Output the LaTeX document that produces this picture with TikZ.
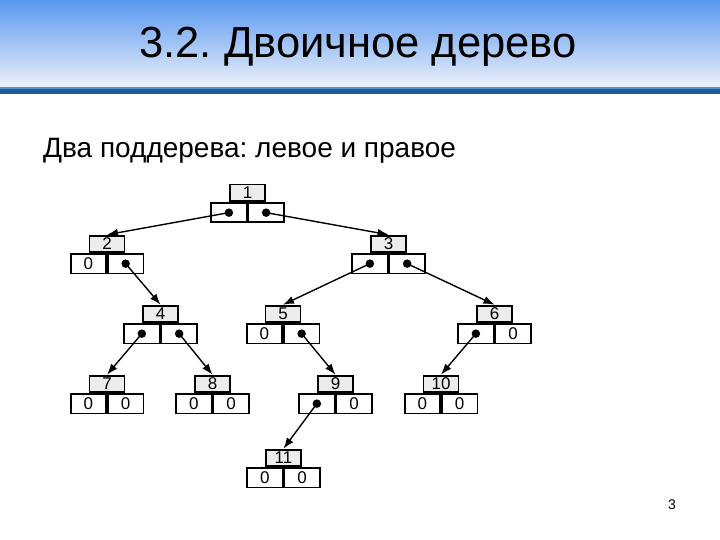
\documentclass[tikz,border=0pt]{standalone}
\usepackage{fontspec}
\setmainfont{Liberation Sans}
\usetikzlibrary{arrows.meta}
\frenchspacing

\definecolor{bartop}{RGB}{88,152,240}
\definecolor{barmid}{RGB}{150,190,238}
\definecolor{barbot}{RGB}{236,240,250}
\definecolor{stripe}{RGB}{30,92,158}
\definecolor{stripelt}{RGB}{80,150,205}

\begin{document}
\begin{tikzpicture}[x=1pt,y=-1pt,
  numbox/.style={draw,fill=gray!15,line width=1.8pt,minimum width=35pt,minimum height=16.5pt,inner sep=0pt,anchor=south,font=\fontsize{17}{17}\selectfont},
  cell/.style={draw,line width=1.8pt,minimum width=35.5pt,minimum height=19.5pt,inner sep=0pt,font=\fontsize{17}{17}\selectfont},
  lcell/.style={cell,anchor=north east},
  rcell/.style={cell,anchor=north west},
  ptr/.style={circle,fill=black,inner sep=0pt,minimum size=8.5pt},
  arr/.style={-{Latex[length=11pt,width=8pt]},line width=1.4pt},
]
  \useasboundingbox (0,0) rectangle (720,540);

  % title bar
  \shade[top color=bartop,middle color=barmid,bottom color=barbot] (0,0) rectangle (720,87);
  \fill[stripelt] (0,87) rectangle (720,89);
  \fill[stripe] (0,89) rectangle (720,94);
  \node[anchor=base,font=\fontsize{43.5}{43.5}\selectfont] (title) at (358,58) {3.2. Двоичное дерево};
  \node[anchor=base west,font=\fontsize{28}{28}\selectfont,inner sep=0pt] (sub) at (43,158) {Два поддерева: левое и правое};

  % level 1
  \node[lcell] (t1l) at (247.5,202) {};
  \node[rcell] (t1r) at (247.5,202) {};
  \node[numbox] (t1) at (247.5,202) {1};

  % level 2
  \node[lcell] (t2l) at (107,253) {0};
  \node[rcell] (t2r) at (107,253) {};
  \node[numbox] (t2) at (107,253) {2};
  \node[lcell] (t3l) at (388.5,253) {};
  \node[rcell] (t3r) at (388.5,253) {};
  \node[numbox] (t3) at (388.5,253) {3};

  % level 3
  \node[lcell] (t4l) at (160.5,323) {};
  \node[rcell] (t4r) at (160.5,323) {};
  \node[numbox] (t4) at (160.5,323) {4};
  \node[lcell] (t5l) at (283,323) {0};
  \node[rcell] (t5r) at (283,323) {};
  \node[numbox] (t5) at (283,323) {5};
  \node[lcell] (t6l) at (494.5,323) {};
  \node[rcell] (t6r) at (494.5,323) {0};
  \node[numbox] (t6) at (494.5,323) {6};

  % level 4
  \node[lcell] (t7l) at (107,393) {0};
  \node[rcell] (t7r) at (107,393) {0};
  \node[numbox] (t7) at (107,393) {7};
  \node[lcell] (t8l) at (212.5,393) {0};
  \node[rcell] (t8r) at (212.5,393) {0};
  \node[numbox] (t8) at (212.5,393) {8};
  \node[lcell] (t9l) at (335.5,393) {};
  \node[rcell] (t9r) at (335.5,393) {0};
  \node[numbox] (t9) at (335.5,393) {9};
  \node[lcell] (t10l) at (441,393) {0};
  \node[rcell] (t10r) at (441,393) {0};
  \node[numbox] (t10) at (441,393) {10};

  % level 5
  \node[lcell] (t11l) at (283.5,467) {0};
  \node[rcell] (t11r) at (283.5,467) {0};
  \node[numbox] (t11) at (283.5,467) {11};

  % pointers
  \node[ptr] (p1l) at (t1l) {};
  \node[ptr] (p1r) at (t1r) {};
  \node[ptr] (p2r) at (t2r) {};
  \node[ptr] (p3l) at (t3l) {};
  \node[ptr] (p3r) at (t3r) {};
  \node[ptr] (p4l) at (t4l) {};
  \node[ptr] (p4r) at (t4r) {};
  \node[ptr] (p5r) at (t5r) {};
  \node[ptr] (p6l) at (t6l) {};
  \node[ptr] (p9l) at (t9l) {};

  \draw[arr] (p1l.center) -- (t2.north);
  \draw[arr] (p1r.center) -- (t3.north);
  \draw[arr] (p2r.center) -- (t4.north);
  \draw[arr] (p3l.center) -- (t5.north);
  \draw[arr] (p3r.center) -- (t6.north);
  \draw[arr] (p4l.center) -- (t7.north);
  \draw[arr] (p4r.center) -- (t8.north);
  \draw[arr] (p5r.center) -- (t9.north);
  \draw[arr] (p6l.center) -- (t10.north);
  \draw[arr] (p9l.center) -- (t11.north);

  % slide number
  \node[font=\fontsize{14}{14}\selectfont] (num) at (672,505) {3};
\end{tikzpicture}
\end{document}
